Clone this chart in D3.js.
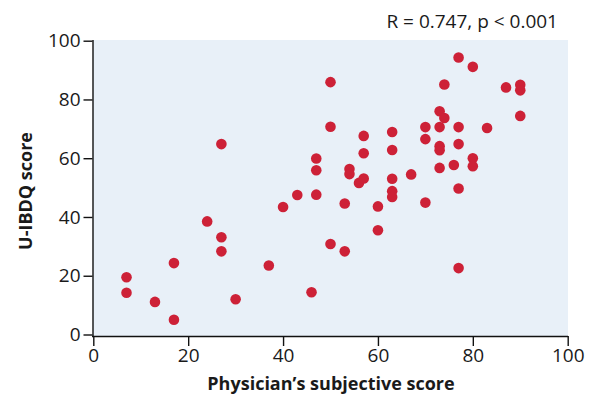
<!DOCTYPE html>
<html>
<head>
<meta charset="utf-8">
<script src="https://cdn.jsdelivr.net/npm/d3@7"></script>
<style>
  body { margin: 0; background: #fff; }
  text { font-family: "Open Sans", sans-serif; }
</style>
</head>
<body>
<script>
// physician's subjective score vs U-IBDQ score
const physician = [7, 7, 13, 17, 17, 24, 27, 27, 27, 30,
    37, 40, 43, 46, 47, 47, 47, 50, 50, 50,
    53, 53, 54, 54, 56, 57, 57, 57, 60, 60,
    63, 63, 63, 63, 63, 67, 70, 70, 70, 73,
    74, 73, 73, 73, 73, 74, 77, 77, 77, 76,
    77, 77, 80, 80, 80, 83, 87, 90, 90, 90]
const ibdq = [19.5, 14.2, 11.1, 24.3, 5, 38.5, 64.8, 33.1, 28.3, 12,
    23.5, 43.4, 47.5, 14.4, 59.9, 55.9, 47.6, 85.9, 70.7, 30.8,
    44.6, 28.3, 56.3, 54.6, 51.6, 53.1, 67.6, 61.7, 43.6, 35.5,
    68.9, 62.8, 53, 48.8, 46.8, 54.5, 70.6, 66.5, 44.9, 76,
    73.7, 70.6, 64.1, 62.7, 56.7, 85.1, 94.3, 70.6, 64.8, 57.7,
    49.7, 22.6, 91.1, 60, 57.3, 70.3, 84.1, 85, 83.1, 74.4]
const ticks = [0, 20, 40, 60, 80, 100]
const statText = 'R = 0.747, p < 0.001'

const m = { width: 593, height: 395, left: 93, right: 568, top: 40, bottom: 336 }

const svg = d3.select('body').append('svg')
    .attr('width', m.width)
    .attr('height', m.height)

const x = d3.scaleLinear().domain([0, 100]).range([93.3, 567.7])
const y = d3.scaleLinear().domain([0, 100]).range([334.5, 40.7])

// plot background
svg.append('rect')
    .attr('x', m.left)
    .attr('y', m.top)
    .attr('width', m.right - m.left)
    .attr('height', m.bottom - m.top)
    .attr('fill', '#e8f0f8')

const xAxis = svg.append('g')
    .attr('transform', `translate(0,${m.bottom})`)
    .call(d3.axisBottom(x).tickValues(ticks).tickSize(10).tickPadding(3).tickSizeOuter(0))

const yAxis = svg.append('g')
    .attr('transform', `translate(${m.left - 0.5},0)`)
    .call(d3.axisLeft(y).tickValues(ticks).tickSize(9).tickPadding(3).tickSizeOuter(0))

xAxis.select('.domain').attr('d', `M${m.left - 1},0.5H${m.right}`)
yAxis.select('.domain').attr('d', `M0.5,${m.top}V${m.bottom + 1}`)

svg.selectAll('.domain, .tick line')
    .attr('stroke', '#111')
    .attr('stroke-width', 1.4)
svg.selectAll('.tick text')
    .style('font-size', '19px')
    .attr('fill', '#1a1a1a')

svg.append('g')
    .selectAll('circle')
    .data(physician.map((d, i) => [d, ibdq[i]]))
    .enter()
    .append('circle')
        .attr('cx', d => x(d[0]))
        .attr('cy', d => y(d[1]))
        .attr('r', 5.3)
        .attr('fill', '#cd2137')

svg.append('text')
    .attr('x', 558)
    .attr('y', 28)
    .attr('text-anchor', 'end')
    .style('font-size', '19px')
    .attr('fill', '#1a1a1a')
    .text(statText)

svg.append('text')
    .attr('x', 331)
    .attr('y', 390)
    .attr('text-anchor', 'middle')
    .style('font-size', '18px')
    .style('font-weight', 'bold')
    .attr('fill', '#1a1a1a')
    .text('Physician’s subjective score')

svg.append('text')
    .attr('transform', 'translate(32,191) rotate(-90)')
    .attr('text-anchor', 'middle')
    .style('font-size', '18px')
    .style('font-weight', 'bold')
    .attr('fill', '#1a1a1a')
    .text('U-IBDQ score')
</script>
</body>
</html>
